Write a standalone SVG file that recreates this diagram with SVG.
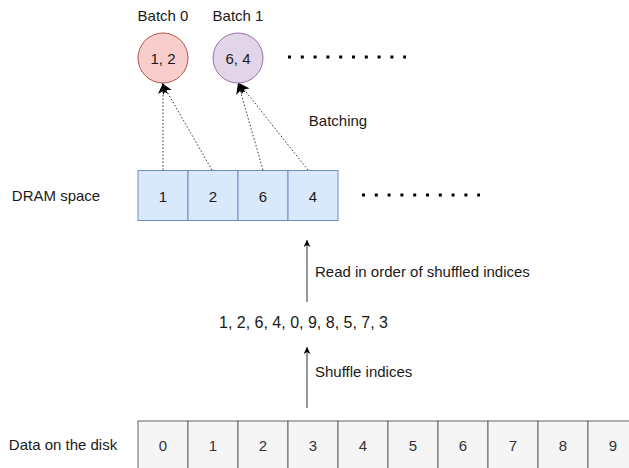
<svg xmlns="http://www.w3.org/2000/svg" width="629" height="468" viewBox="0 0 629 468">
<defs>
<style>
text{font-family:"Liberation Sans",Arial,sans-serif;font-size:15px;fill:#1a1a1a}
.c{text-anchor:middle;dominant-baseline:central}
.l{dominant-baseline:central}
.dram{fill:#dae8fc;stroke:#6c8ebf;stroke-width:1}
.disk{fill:#f5f5f5;stroke:#666666;stroke-width:1}
.dt{fill:#333333}
.dots{stroke:#000;stroke-width:3;stroke-dasharray:3 9.8;fill:none}
.dotted{stroke:#333;stroke-width:1;stroke-dasharray:1.5 2;fill:none}
.solid{stroke:#333;stroke-width:1;fill:none}
</style>
<marker id="big" markerWidth="12" markerHeight="10" refX="11" refY="5" orient="auto" markerUnits="userSpaceOnUse">
<path d="M0,0 L11,5 L0,10 L3,5 Z" fill="#000"/>
</marker>
<marker id="small" markerWidth="8" markerHeight="8" refX="7" refY="3.5" orient="auto" markerUnits="userSpaceOnUse">
<path d="M0,0 L7,3.5 L0,7 L2,3.5 Z" fill="#000"/>
</marker>
</defs>
<rect width="629" height="468" fill="#fff"/>

<g id="batch0">
<circle cx="163" cy="58" r="25" fill="#f8cecc" stroke="#b85450"/>
<text class="c" x="163" y="58">1, 2</text>
<text class="c" x="163" y="15">Batch 0</text>
</g>
<g id="batch1">
<circle cx="238" cy="58" r="25" fill="#e1d5e7" stroke="#9673a6"/>
<text class="c" x="238" y="58">6, 4</text>
<text class="c" x="238" y="15">Batch 1</text>
</g>
<line id="batch-dots" class="dots" x1="288" y1="57" x2="406" y2="57"/>
<text id="batching" class="c" x="338" y="120">Batching</text>

<g id="dram">
<text class="c" x="56" y="195">DRAM space</text>
<rect class="dram" x="138" y="170.5" width="50" height="50"/>
<text class="c" x="163" y="196">1</text>
<rect class="dram" x="188" y="170.5" width="50" height="50"/>
<text class="c" x="213" y="196">2</text>
<rect class="dram" x="238" y="170.5" width="50" height="50"/>
<text class="c" x="263" y="196">6</text>
<rect class="dram" x="288" y="170.5" width="50" height="50"/>
<text class="c" x="313" y="196">4</text>
</g>
<line id="dram-dots" class="dots" x1="362" y1="195" x2="480" y2="195"/>

<text id="sequence" class="c" x="303.5" y="322" style="font-size:16px">1, 2, 6, 4, 0, 9, 8, 5, 7, 3</text>

<g id="disk">
<text class="c" x="63" y="444">Data on the disk</text>
<rect class="disk" x="138" y="421" width="50" height="50"/>
<text class="c dt" x="163" y="445">0</text>
<rect class="disk" x="188" y="421" width="50" height="50"/>
<text class="c dt" x="213" y="445">1</text>
<rect class="disk" x="238" y="421" width="50" height="50"/>
<text class="c dt" x="263" y="445">2</text>
<rect class="disk" x="288" y="421" width="50" height="50"/>
<text class="c dt" x="313" y="445">3</text>
<rect class="disk" x="338" y="421" width="50" height="50"/>
<text class="c dt" x="363" y="445">4</text>
<rect class="disk" x="388" y="421" width="50" height="50"/>
<text class="c dt" x="413" y="445">5</text>
<rect class="disk" x="438" y="421" width="50" height="50"/>
<text class="c dt" x="463" y="445">6</text>
<rect class="disk" x="488" y="421" width="50" height="50"/>
<text class="c dt" x="513" y="445">7</text>
<rect class="disk" x="538" y="421" width="50" height="50"/>
<text class="c dt" x="563" y="445">8</text>
<rect class="disk" x="588" y="421" width="50" height="50"/>
<text class="c dt" x="613" y="445">9</text>
</g>

<g id="connectors">
<line class="dotted" x1="163" y1="170" x2="163" y2="83" marker-end="url(#big)"/>
<line class="dotted" x1="212" y1="170" x2="162" y2="83" marker-end="url(#big)"/>
<line class="dotted" x1="263" y1="170" x2="238" y2="83" marker-end="url(#big)"/>
<line class="dotted" x1="308" y1="170" x2="239" y2="83" marker-end="url(#big)"/>
<line class="solid" x1="307" y1="302" x2="307" y2="240" marker-end="url(#small)"/>
<line class="solid" x1="307" y1="408" x2="307" y2="347" marker-end="url(#small)"/>
<text class="l" x="315" y="271">Read in order of shuffled indices</text>
<text class="l" x="315" y="371">Shuffle indices</text>
</g>
</svg>
